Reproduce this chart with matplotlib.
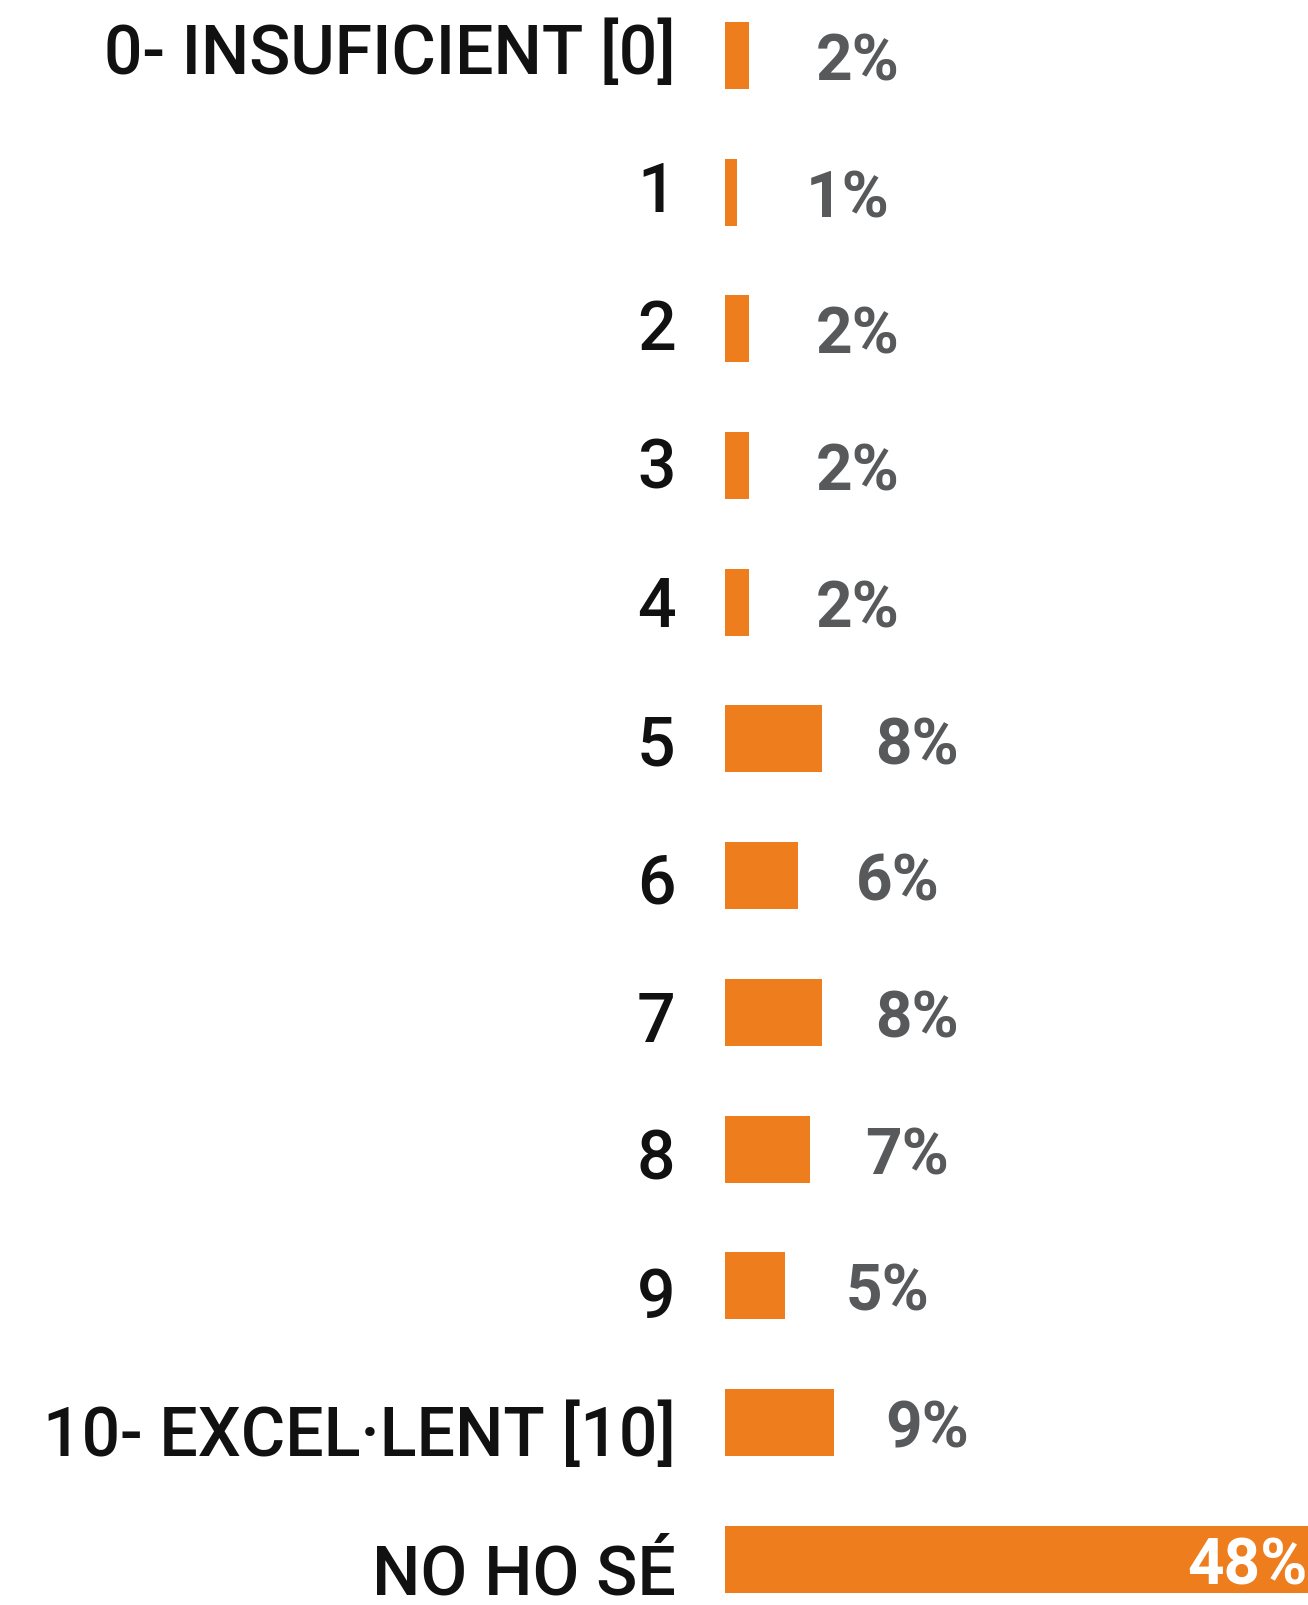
import matplotlib
matplotlib.use("Agg")
import matplotlib.pyplot as plt
import numpy as np

# survey answers, score 0..10 plus "don't know"
categories = ['0- INSUFICIENT [0]', '1', '2', '3', '4', '5', '6', '7', '8', '9',
              '10- EXCEL·LENT [10]', 'NO HO SÉ']
values = [2, 1, 2, 2, 2, 8, 6, 8, 7, 5, 9, 48]
value_labels = ['2%', '1%', '2%', '2%', '2%', '8%', '6%', '8%', '7%', '5%', '9%', '48%']

orange = '#EE7D1E'
grey = '#58595B'
font = ['Roboto', 'DejaVu Sans']

fig = plt.figure(figsize=(13.08, 16.05), dpi=100)

# bars
ax = fig.add_axes([0.554, 0.0, 0.446, 1.0])
y = np.arange(len(categories))
ax.barh(y, values, height=0.49, color=orange, edgecolor='none')
ax.set_xlim(0, max(values))
ax.set_ylim(11.334, -0.405)
ax.axis('off')

# percentages next to the bars, the big one goes inside
for i, (v, lab) in enumerate(zip(values, value_labels)):
    if v == max(values):
        ax.text(v - 0.05, i + 0.183, lab, ha='right', va='baseline', fontsize=46,
                family=font, fontweight='bold', color='white')
    else:
        ax.text(5.9 + 0.81 * v, i + 0.183, lab, ha='left', va='baseline', fontsize=46,
                family=font, fontweight='bold', color=grey)

# category names, own axes so they can sit on their own baselines
lax = fig.add_axes([0.0, 0.0, 0.5165, 1.0])
lax.set_xlim(0, 1)
lax.set_ylim(11.074, -0.533)
lax.axis('off')
for i, cat in enumerate(categories):
    lax.text(1, i, cat, ha='right', va='baseline', fontsize=49,
             family=font, fontweight=500, color='#111111')

fig.savefig('out.png', dpi=100, facecolor='white')
